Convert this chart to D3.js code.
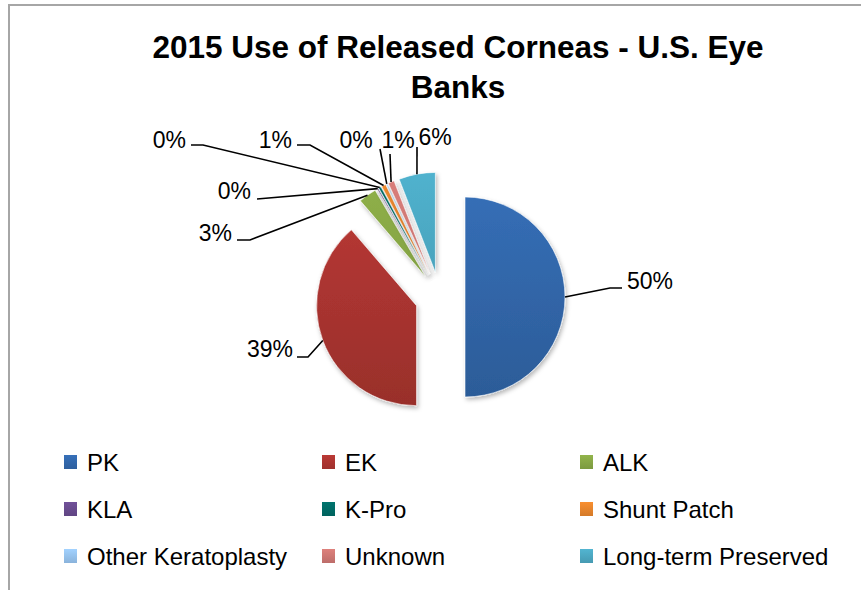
<!DOCTYPE html>
<html><head><meta charset="utf-8">
<script src="https://cdn.jsdelivr.net/npm/d3@7"></script>
<style>body{margin:0;background:#fff;} svg{display:block}</style>
</head><body><svg id="c" width="861" height="590"></svg>
<script>
// ---- data ----
const categories = ["PK","EK","ALK","KLA","K-Pro","Shunt Patch","Other Keratoplasty","Unknown","Long-term Preserved"];
const values = [50.0, 38.7, 2.9, 0.2, 0.4, 0.7, 0.2, 1.0, 5.9];
const percentLabels = ["50%","39%","3%","0%","0%","1%","0%","1%","6%"];
const titleLines = ["2015 Use of Released Corneas - U.S. Eye","Banks"];

// ---- style / layout ----
const colors = ["#346CB3","#B43733","#8DAE48","#6D4E94","#00706A","#F08A2E","#9CCBF8","#D67C78","#4FAFCA"];
const W = 861, H = 590;
const cx = 440, cy = 297, R = 100, explode = 25;
const labelFont = "'Liberation Sans', Arial, sans-serif";
// label placement (absolute px): text position + leader bend points (from label side)
const labelLayout = [
  {tx:627, ty:289, anchor:"start",  pts:[[610,288],[622,288]]},
  {tx:293, ty:357, anchor:"end",    pts:[[308,357],[297,357]]},
  {tx:232, ty:241, anchor:"end",    pts:[[250,240],[237,240]]},
  {tx:251, ty:199, anchor:"end",    pts:[[257,199]]},
  {tx:186, ty:148, anchor:"end",    pts:[[203,145],[191,145]]},
  {tx:292, ty:148, anchor:"end",    pts:[[310,145],[297,145]]},
  {tx:356, ty:148, anchor:"middle", pts:[[380,149]]},
  {tx:398, ty:148, anchor:"middle", pts:[[390,154]]},
  {tx:435, ty:145, anchor:"middle", pts:[[417,147]]}
];

const svg = d3.select("#c");
const defs = svg.append("defs");
const f = defs.append("filter").attr("id","sh").attr("x","-20%").attr("y","-20%").attr("width","140%").attr("height","140%");
f.append("feDropShadow").attr("dx",1.5).attr("dy",2.5).attr("stdDeviation",2).attr("flood-color","#000").attr("flood-opacity",0.28);

colors.forEach((c,i)=>{
  const g = defs.append("linearGradient").attr("id","g"+i)
    .attr("gradientUnits","userSpaceOnUse").attr("x1",0).attr("x2",0)
    .attr("y1",-R).attr("y2",R);
  g.append("stop").attr("offset","0%").attr("stop-color",d3.color(c).brighter(0.05));
  g.append("stop").attr("offset","100%").attr("stop-color",d3.color(c).darker(0.45));
  const lg = defs.append("linearGradient").attr("id","lg"+i).attr("x1",0).attr("x2",0).attr("y1",0).attr("y2",1);
  lg.append("stop").attr("offset","0%").attr("stop-color",d3.color(c).brighter(0.1));
  lg.append("stop").attr("offset","100%").attr("stop-color",d3.color(c).darker(0.35));
});

// frame
svg.append("rect").attr("x",9).attr("y",5).attr("width",W+20).attr("height",H+20)
  .attr("fill","#fff").attr("stroke","#a6a6a6").attr("stroke-width",2);

// title
svg.append("g").selectAll("text").data(titleLines).join("text")
  .attr("x",458).attr("y",(d,i)=>58+i*40).attr("text-anchor","middle")
  .attr("font-family",labelFont).attr("font-weight","bold").attr("font-size",31.5)
  .attr("fill","#000").text(d=>d);

// pie
const pie = d3.pie().sort(null).value(d=>d)(values);
const arc = d3.arc().innerRadius(0).outerRadius(R);
const off = a => [explode*Math.sin(a), -explode*Math.cos(a)];

const gp = svg.append("g").attr("transform",`translate(${cx},${cy})`);
gp.selectAll("path").data(pie).join("path")
  .attr("transform",d=>{const m=(d.startAngle+d.endAngle)/2;const o=off(m);return `translate(${o[0]},${o[1]})`;})
  .attr("d",arc)
  .attr("fill",(d,i)=>`url(#g${i})`)
  .attr("stroke","#fff").attr("stroke-width",0.6)
  .attr("filter","url(#sh)");

// leader lines + labels
const lines = svg.append("g");
pie.forEach((d,i)=>{
  const m=(d.startAngle+d.endAngle)/2, o=off(m);
  const sx = cx+o[0]+R*Math.sin(m), sy = cy+o[1]-R*Math.cos(m);
  const L = labelLayout[i];
  const pts = [[sx,sy]].concat(L.pts);
  lines.append("path").attr("d",d3.line()(pts)).attr("fill","none").attr("stroke","#000").attr("stroke-width",1.6);
  lines.append("text").attr("x",L.tx).attr("y",L.ty).attr("text-anchor",L.anchor)
    .attr("font-family",labelFont).attr("font-size",23).attr("fill","#000").text(percentLabels[i]);
});

// legend
const colX = [64,322,580], rowY = [462,509,556];
const lg = svg.append("g").selectAll("g").data(categories).join("g")
  .attr("transform",(d,i)=>`translate(${colX[i%3]},${rowY[Math.floor(i/3)]})`);
lg.append("rect").attr("x",0).attr("y",-7).attr("width",13).attr("height",14).attr("fill",(d,i)=>`url(#lg${i})`);
lg.append("text").attr("x",23).attr("y",8.5).attr("font-family",labelFont).attr("font-size",24).attr("fill","#000").text(d=>d);
</script></body></html>
